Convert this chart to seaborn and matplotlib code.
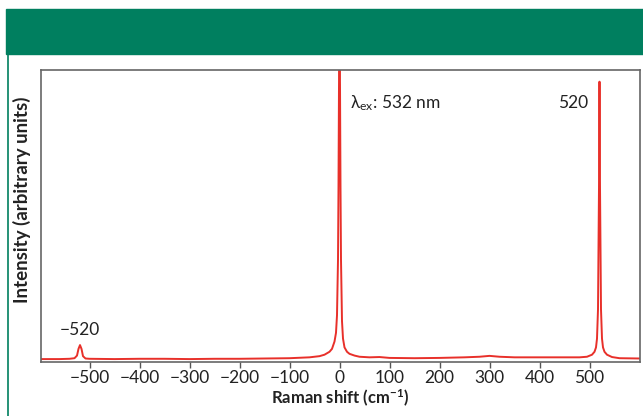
import matplotlib
matplotlib.use("Agg")
import matplotlib.pyplot as plt
import seaborn as sns
import pandas as pd
from matplotlib.patches import Rectangle
from matplotlib.lines import Line2D

# Data
shift = [-597, -560, -540, -530, -525, -522, -519, -516, -513, -508, -500, -450, -400,
         -350, -300, -250, -200, -150, -100, -60, -40, -30, -20, -15, -10, -7, -5, -3,
         -2, -1, 0, 1, 2, 3, 5, 7, 10, 15, 20, 30, 40, 60, 80, 100, 150, 200, 250, 280,
         300, 320, 350, 400, 450, 480, 495, 505, 510, 513, 515, 517, 519, 520, 521, 523,
         525, 527, 530, 535, 545, 560, 601]
intensity = [0.010, 0.010, 0.011, 0.013, 0.022, 0.045, 0.058, 0.045, 0.020, 0.012, 0.011,
             0.010, 0.011, 0.011, 0.010, 0.011, 0.011, 0.012, 0.013, 0.016, 0.020, 0.025,
             0.035, 0.045, 0.070, 0.100, 0.160, 0.350, 0.600, 0.950, 1.150, 0.950, 0.600,
             0.350, 0.140, 0.080, 0.050, 0.035, 0.028, 0.022, 0.018, 0.016, 0.017, 0.014,
             0.013, 0.014, 0.016, 0.018, 0.021, 0.018, 0.016, 0.016, 0.016, 0.016, 0.018,
             0.025, 0.035, 0.050, 0.080, 0.180, 0.600, 0.960, 0.600, 0.180, 0.080, 0.050,
             0.035, 0.025, 0.017, 0.013, 0.012]
xticks = [-500, -400, -300, -200, -100, 0, 100, 200, 300, 400, 500]
xtick_labels = ["\u2212500", "\u2212400", "\u2212300", "\u2212200", "\u2212100", "0",
                "100", "200", "300", "400", "500"]

sns.set_style("white")
plt.rcParams['font.family'] = ['Lato', 'DejaVu Sans']
plt.rcParams['mathtext.fontset'] = 'custom'
plt.rcParams['mathtext.rm'] = 'Lato'
plt.rcParams['mathtext.it'] = 'Lato'
plt.rcParams['mathtext.bf'] = 'Lato:bold'

W, H = 643, 416
fig = plt.figure(figsize=(W / 100, H / 100), dpi=100)
green = "#007F5F"
fig.patches.append(Rectangle((6 / W, 1 - 54 / H), 1 - 6 / W, 45 / H,
                             transform=fig.transFigure, color=green, zorder=0))
fig.lines.append(Line2D([7.5 / W, 7.5 / W], [0, 1 - 55 / H], transform=fig.transFigure,
                        color=green, lw=1.2))

ax = fig.add_axes([41 / W, 54 / H, 599 / W, 292 / H])
df = pd.DataFrame({"shift": shift, "intensity": intensity})
sns.lineplot(data=df, x="shift", y="intensity", ax=ax, color="#E8302A", lw=1.4,
             estimator=None, sort=False)

ax.set_xlim(-597, 601)
ax.set_ylim(0, 1)
ax.set_yticks([])
ax.set_xticks(xticks)
ax.set_xticklabels(xtick_labels, fontsize=12.5, color="#222222")
ax.tick_params(axis="x", direction="out", length=4, width=1, color="#555555",
               bottom=True, pad=2)
for s in ax.spines.values():
    s.set_color("#666666")
    s.set_linewidth(1.2)

ax.set_xlabel("Raman shift (cm$^{\\mathbf{\u22121}}$)", fontsize=12, fontweight="bold",
              color="#222222", labelpad=1)
ax.set_ylabel("Intensity (arbitrary units)", fontsize=13.5, fontweight="bold",
              color="#222222")
ax.yaxis.set_label_coords(-0.016, 0.555)

ax.text(20, 0.887, "\u03bb$_{\\mathrm{ex}}$: 532 nm", fontsize=12.5, color="#222222",
        ha="left", va="center")
ax.text(468, 0.887, "520", fontsize=12.5, color="#222222", ha="center", va="center")
ax.text(-520, 0.11, "\u2212520", fontsize=12.5, color="#222222", ha="center", va="center")

fig.savefig("out.png", dpi=100)
